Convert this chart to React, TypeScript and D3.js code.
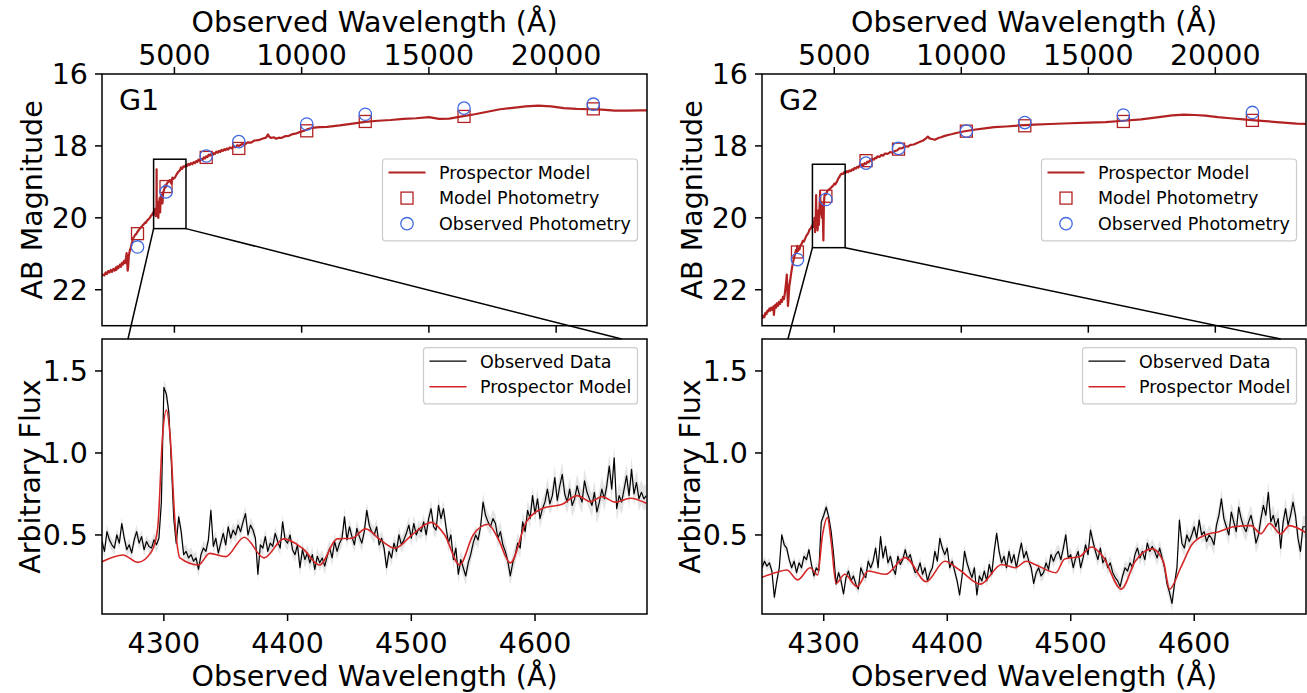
import React from 'react';
import * as d3 from 'd3';

// ---------- axis / tick definitions ----------
const topTicksX = [5000, 10000, 15000, 20000];
const topTicksY = [16, 18, 20, 22];
const botTicksX = [4300, 4400, 4500, 4600];
const botTicksY = [0.5, 1.0, 1.5];
const TOP_X_DOMAIN = [2155, 23570];
const TOP_Y_DOMAIN = [16, 23];
const BOT_X_DOMAIN = [4250, 4690.5];
const BOT_Y_DOMAIN = [0.018, 1.695];

// ---------- photometry ----------
const photWave = [3550, 4670, 6250, 7530, 10200, 12500, 16380, 21460];
const g1ModelPhot = [20.44, 19.13, 18.32, 18.07, 17.58, 17.32, 17.18, 16.97];
const g1ObsPhot = [20.81, 19.28, 18.28, 17.88, 17.39, 17.12, 16.95, 16.84];
const g2ModelPhot = [20.95, 19.40, 18.41, 18.09, 17.59, 17.44, 17.32, 17.29];
const g2ObsPhot = [21.16, 19.49, 18.48, 18.07, 17.59, 17.35, 17.14, 17.07];

// ---------- broadband model spectra (AB mag) ----------
const g1SedWave = [2152, 2200, 2250, 2300, 2350, 2400, 2450, 2500, 2550, 2600, 2650, 2700, 2720, 2760, 2800, 2859, 2900, 2940, 2980, 3020, 3060, 3100, 3122, 3140, 3165, 3185, 3210, 3252, 3290, 3330, 3382, 3420, 3460, 3500, 3540, 3578, 3620, 3660, 3720, 3760, 3800, 3841, 3880, 3920, 3960, 4000, 4038, 4080, 4120, 4160, 4200, 4225, 4245, 4265, 4280, 4295, 4301, 4306, 4320, 4335, 4350, 4370, 4385, 4400, 4420, 4440, 4460, 4480, 4497, 4515, 4530, 4560, 4600, 4627, 4660, 4700, 4757, 4820, 4880, 4920, 4950, 5020, 5080, 5150, 5220, 5260, 5300, 5350, 5413, 5460, 5500, 5550, 5600, 5650, 5700, 5760, 5806, 5860, 5900, 5950, 6000, 6050, 6100, 6150, 6199, 6250, 6300, 6350, 6400, 6450, 6500, 6550, 6592, 6650, 6700, 6750, 6800, 6850, 6900, 6960, 7000, 7060, 7114, 7180, 7250, 7320, 7400, 7470, 7550, 7650, 7770, 7880, 8000, 8150, 8300, 8450, 8600, 8680, 8720, 8800, 8900, 9000, 9100, 9200, 9350, 9500, 9650, 9800, 9950, 10100, 10250, 10400, 10700, 11000, 11500, 12000, 12500, 13000, 13500, 14000, 14500, 15000, 15400, 15800, 16300, 16800, 17300, 17800, 18300, 18800, 19300, 19800, 20300, 20800, 21300, 21800, 22300, 22800, 23300, 23565];
const g1SedMag = [21.62, 21.58, 21.60, 21.52, 21.56, 21.48, 21.52, 21.45, 21.50, 21.42, 21.47, 21.38, 21.45, 21.35, 21.40, 21.30, 21.36, 21.25, 21.30, 21.20, 21.26, 21.10, 20.98, 21.20, 21.47, 21.35, 21.05, 20.90, 20.82, 20.70, 20.56, 20.52, 20.47, 20.45, 20.40, 20.36, 20.32, 20.28, 20.24, 20.20, 20.18, 20.13, 20.14, 20.08, 20.06, 20.02, 20.00, 19.94, 19.92, 19.86, 19.82, 19.90, 19.75, 19.95, 19.78, 19.90, 18.65, 19.85, 19.95, 19.60, 19.90, 20.00, 19.55, 19.70, 19.45, 19.85, 19.40, 19.60, 19.42, 19.35, 19.60, 19.30, 19.20, 19.10, 19.15, 19.05, 19.00, 18.95, 19.05, 18.88, 18.92, 18.88, 18.80, 18.72, 18.68, 18.60, 18.64, 18.57, 18.58, 18.53, 18.56, 18.50, 18.53, 18.48, 18.51, 18.45, 18.48, 18.42, 18.45, 18.38, 18.42, 18.36, 18.39, 18.32, 18.35, 18.29, 18.31, 18.24, 18.27, 18.22, 18.26, 18.20, 18.22, 18.16, 18.19, 18.14, 18.17, 18.11, 18.14, 18.09, 18.12, 18.07, 18.10, 18.04, 18.07, 18.01, 18.04, 17.98, 18.00, 17.95, 17.96, 17.90, 17.91, 17.85, 17.84, 17.80, 17.77, 17.68, 17.74, 17.78, 17.76, 17.80, 17.77, 17.78, 17.73, 17.72, 17.67, 17.65, 17.61, 17.58, 17.53, 17.50, 17.48, 17.47, 17.43, 17.38, 17.33, 17.30, 17.28, 17.25, 17.23, 17.20, 17.25, 17.24, 17.18, 17.12, 17.05, 16.98, 16.94, 16.90, 16.88, 16.90, 16.95, 16.97, 16.98, 16.99, 17.02, 17.02, 17.01, 17.01];

const g2SedWave = [2160, 2200, 2250, 2290, 2330, 2370, 2408, 2450, 2480, 2520, 2560, 2605, 2625, 2650, 2680, 2710, 2740, 2780, 2820, 2860, 2900, 2940, 2980, 3020, 3050, 3080, 3110, 3132, 3150, 3175, 3195, 3230, 3262, 3300, 3340, 3380, 3420, 3459, 3490, 3520, 3545, 3570, 3600, 3630, 3655, 3690, 3720, 3760, 3800, 3852, 3900, 3940, 3990, 4030, 4070, 4110, 4150, 4190, 4220, 4245, 4270, 4285, 4300, 4320, 4345, 4370, 4395, 4420, 4442, 4465, 4490, 4515, 4540, 4572, 4590, 4610, 4639, 4680, 4720, 4780, 4850, 4903, 4960, 5000, 5040, 5100, 5150, 5200, 5250, 5296, 5350, 5400, 5450, 5500, 5550, 5600, 5650, 5700, 5750, 5800, 5850, 5900, 5950, 6000, 6050, 6100, 6150, 6200, 6250, 6300, 6350, 6400, 6450, 6500, 6560, 6607, 6660, 6700, 6780, 6850, 6920, 7000, 7100, 7200, 7300, 7394, 7480, 7562, 7680, 7800, 7900, 8000, 8130, 8262, 8400, 8500, 8600, 8682, 8750, 8800, 8962, 9100, 9200, 9350, 9522, 9650, 9800, 9950, 10082, 10500, 10922, 11300, 11762, 12300, 12882, 13500, 14282, 15000, 15682, 16382, 17082, 17782, 18300, 18762, 19200, 19602, 20100, 20582, 21100, 21562, 22100, 22682, 23200, 23592];
const g2SedMag = [22.81, 22.72, 22.76, 22.64, 22.68, 22.58, 22.60, 22.52, 22.58, 22.50, 22.56, 22.46, 22.70, 22.48, 22.42, 22.50, 22.38, 22.45, 22.34, 22.40, 22.28, 22.34, 22.20, 22.26, 22.12, 21.95, 21.75, 21.58, 21.90, 22.45, 22.30, 21.90, 21.75, 21.55, 21.38, 21.22, 21.10, 21.00, 20.90, 20.96, 20.78, 20.92, 20.85, 20.88, 20.80, 20.74, 20.72, 20.64, 20.66, 20.58, 20.50, 20.46, 20.40, 20.32, 20.30, 20.24, 20.20, 20.25, 20.00, 20.40, 20.05, 19.37, 20.25, 19.90, 20.35, 19.80, 20.20, 19.70, 19.28, 19.90, 19.55, 20.00, 19.65, 20.63, 19.70, 19.40, 19.33, 19.35, 19.26, 19.22, 19.18, 19.14, 19.10, 19.05, 19.07, 19.00, 18.92, 18.86, 18.80, 18.77, 18.78, 18.72, 18.75, 18.70, 18.73, 18.68, 18.70, 18.65, 18.67, 18.61, 18.63, 18.58, 18.60, 18.54, 18.56, 18.51, 18.53, 18.48, 18.50, 18.44, 18.46, 18.40, 18.42, 18.36, 18.38, 18.33, 18.34, 18.29, 18.31, 18.25, 18.27, 18.21, 18.22, 18.17, 18.19, 18.14, 18.12, 18.07, 18.06, 18.01, 18.02, 17.97, 17.96, 17.92, 17.88, 17.85, 17.80, 17.74, 17.79, 17.80, 17.83, 17.78, 17.76, 17.72, 17.69, 17.67, 17.64, 17.62, 17.60, 17.55, 17.51, 17.48, 17.46, 17.43, 17.41, 17.39, 17.37, 17.35, 17.34, 17.30, 17.26, 17.20, 17.15, 17.13, 17.14, 17.16, 17.20, 17.23, 17.26, 17.29, 17.32, 17.35, 17.38, 17.39];

// zoom boxes in the upper panels [wave0, wave1, mag0, mag1] and link ends in the lower panels
const g1ZoomBox = [4183, 5455, 18.37, 20.30];
const g2ZoomBox = [4140, 5428, 18.51, 20.83];
const linkEndWave = [4271, 4670];

// ---------- zoomed spectra (2 A sampling from 4250 A) ----------
const SPEC_START = 4250;
const SPEC_STEP = 2;
const g1ObsFlux = [
  0.46, 0.40, 0.52, 0.47, 0.44, 0.42, 0.50, 0.45, 0.57, 0.48,
  0.41, 0.44, 0.39, 0.47, 0.52, 0.45, 0.49, 0.41, 0.46, 0.43,
  0.42, 0.47, 0.44, 0.48, 0.70, 1.40, 1.36, 1.25, 0.95, 0.60,
  0.45, 0.61, 0.52, 0.38, 0.40, 0.36, 0.38, 0.34, 0.36, 0.29,
  0.38, 0.42, 0.40, 0.47, 0.65, 0.43, 0.48, 0.39, 0.45, 0.51,
  0.44, 0.55, 0.48, 0.53, 0.50, 0.56, 0.52, 0.58, 0.63, 0.50,
  0.56, 0.53, 0.48, 0.26, 0.44, 0.42, 0.49, 0.40, 0.45, 0.43,
  0.51, 0.46, 0.42, 0.58, 0.47, 0.45, 0.50, 0.41, 0.38, 0.44,
  0.30, 0.41, 0.35, 0.39, 0.33, 0.38, 0.29, 0.37, 0.33, 0.36,
  0.31, 0.37, 0.42, 0.36, 0.46, 0.40, 0.45, 0.48, 0.61, 0.47,
  0.55, 0.49, 0.44, 0.54, 0.49, 0.45, 0.52, 0.65, 0.56, 0.52,
  0.50, 0.55, 0.44, 0.48, 0.42, 0.30, 0.40, 0.36, 0.45, 0.40,
  0.50, 0.44, 0.47, 0.51, 0.56, 0.48, 0.57, 0.50, 0.54, 0.52,
  0.58, 0.50, 0.60, 0.66, 0.55, 0.53, 0.68, 0.60, 0.66, 0.55,
  0.45, 0.50, 0.35, 0.42, 0.26, 0.35, 0.30, 0.25, 0.33, 0.38,
  0.45, 0.50, 0.47, 0.55, 0.70, 0.62, 0.58, 0.55, 0.60, 0.57,
  0.48, 0.52, 0.44, 0.40, 0.34, 0.25, 0.33, 0.38, 0.45, 0.42,
  0.58, 0.52, 0.65, 0.60, 0.74, 0.63, 0.72, 0.60, 0.66, 0.70,
  0.78, 0.69, 0.74, 0.85, 0.71, 0.80, 0.87, 0.75, 0.70, 0.78,
  0.68, 0.72, 0.80, 0.74, 0.70, 0.83, 0.76, 0.72, 0.68, 0.76,
  0.64, 0.70, 0.78, 0.72, 0.80, 0.92, 0.78, 0.97, 0.66, 0.74,
  0.70, 0.78, 0.86, 0.74, 0.90, 0.75, 0.82, 0.72, 0.76, 0.72,
  0.74];
const g2ObsFlux = [
  0.30, 0.34, 0.31, 0.33, 0.28, 0.12, 0.22, 0.30, 0.50, 0.44,
  0.42, 0.35, 0.30, 0.34, 0.27, 0.33, 0.30, 0.37, 0.35, 0.41,
  0.32, 0.25, 0.30, 0.28, 0.58, 0.62, 0.67, 0.61, 0.52, 0.38,
  0.20, 0.27, 0.22, 0.14, 0.24, 0.28, 0.22, 0.25, 0.20, 0.17,
  0.30, 0.26, 0.24, 0.34, 0.30, 0.34, 0.42, 0.30, 0.49, 0.36,
  0.43, 0.33, 0.37, 0.30, 0.26, 0.37, 0.32, 0.35, 0.41, 0.35,
  0.38, 0.32, 0.27, 0.28, 0.33, 0.26, 0.30, 0.22, 0.27, 0.30,
  0.40, 0.34, 0.48, 0.42, 0.38, 0.42, 0.30, 0.34, 0.28, 0.22,
  0.134, 0.25, 0.40, 0.33, 0.28, 0.24, 0.30, 0.134, 0.25, 0.22,
  0.28, 0.22, 0.32, 0.26, 0.40, 0.51, 0.40, 0.33, 0.37, 0.30,
  0.40, 0.33, 0.38, 0.30, 0.38, 0.45, 0.36, 0.40, 0.34, 0.30,
  0.205, 0.27, 0.30, 0.25, 0.27, 0.33, 0.29, 0.38, 0.34, 0.38,
  0.40, 0.35, 0.42, 0.50, 0.36, 0.38, 0.30, 0.36, 0.40, 0.30,
  0.36, 0.44, 0.38, 0.53, 0.46, 0.40, 0.35, 0.42, 0.33, 0.36,
  0.30, 0.33, 0.27, 0.24, 0.22, 0.185, 0.25, 0.30, 0.28, 0.33,
  0.30, 0.38, 0.42, 0.36, 0.40, 0.35, 0.45, 0.40, 0.43, 0.40,
  0.36, 0.42, 0.36, 0.30, 0.20, 0.15, 0.083, 0.20, 0.30, 0.59,
  0.45, 0.42, 0.50, 0.46, 0.50, 0.55, 0.48, 0.59, 0.50, 0.52,
  0.46, 0.50, 0.48, 0.44, 0.56, 0.62, 0.72, 0.60, 0.55, 0.50,
  0.64, 0.58, 0.52, 0.67, 0.60, 0.55, 0.52, 0.58, 0.62, 0.55,
  0.45, 0.50, 0.60, 0.68, 0.62, 0.76, 0.58, 0.62, 0.55, 0.60,
  0.42, 0.58, 0.66, 0.56, 0.62, 0.70, 0.62, 0.48, 0.40, 0.55,
  0.55];
// flux uncertainty per 40 A block
const ERR_BLOCK = 40;
const g1ErrBlocks = [0.04, 0.045, 0.045, 0.045, 0.05, 0.05, 0.05, 0.055, 0.06, 0.07, 0.075, 0.075];
const g2ErrBlocks = [0.03, 0.035, 0.035, 0.035, 0.04, 0.04, 0.045, 0.045, 0.05, 0.06, 0.065, 0.065];

const g1FitWave = [4250, 4267, 4279, 4290, 4295, 4299, 4302, 4305, 4309, 4313, 4328, 4337, 4350, 4365, 4381, 4397, 4412, 4426, 4440, 4452, 4463, 4475, 4487, 4501, 4516, 4527, 4539, 4550, 4562, 4570, 4580, 4593, 4608, 4622, 4634, 4645, 4654, 4665, 4677, 4690];
const g1FitFlux = [0.337, 0.378, 0.333, 0.398, 0.54, 1.11, 1.262, 1.11, 0.58, 0.36, 0.317, 0.388, 0.368, 0.486, 0.36, 0.476, 0.419, 0.317, 0.476, 0.48, 0.537, 0.47, 0.419, 0.504, 0.577, 0.50, 0.317, 0.50, 0.565, 0.48, 0.33, 0.58, 0.667, 0.687, 0.74, 0.703, 0.734, 0.70, 0.724, 0.693];
const g2FitWave = [4250, 4262, 4270, 4279, 4289, 4295, 4299, 4303, 4306, 4310, 4317, 4327, 4336, 4350, 4366, 4383, 4398, 4410, 4427, 4444, 4455, 4464, 4472, 4488, 4495, 4507, 4517, 4526, 4541, 4552, 4566, 4575, 4580, 4589, 4598, 4609, 4620, 4632, 4646, 4654, 4661, 4670, 4677, 4690];
const g2FitFlux = [0.242, 0.272, 0.286, 0.226, 0.30, 0.256, 0.50, 0.606, 0.46, 0.205, 0.26, 0.185, 0.28, 0.26, 0.362, 0.215, 0.34, 0.286, 0.20, 0.32, 0.30, 0.34, 0.317, 0.27, 0.354, 0.368, 0.427, 0.368, 0.17, 0.337, 0.415, 0.337, 0.17, 0.30, 0.44, 0.50, 0.52, 0.55, 0.557, 0.508, 0.57, 0.506, 0.557, 0.516];

// ---------- layout ----------
const FONT = 'DejaVu Sans, Verdana, sans-serif';
const TICK_FS = 28.5;
const LABEL_FS = 28.5;
const LEG_FS = 17.5;
const COLS = [[102, 647], [762, 1306]];
const TOP_Y = [74, 325.7];
const BOT_Y = [339, 614];
const SED_RED = '#b22222';
const FIT_RED = '#d62728';
const OBS_BLUE = '#4169e1';

function topScales(col: number[]) {
  return {
    x: d3.scaleLinear().domain(TOP_X_DOMAIN).range(col),
    y: d3.scaleLinear().domain(TOP_Y_DOMAIN).range(TOP_Y),
  };
}
function botScales(col: number[]) {
  return {
    x: d3.scaleLinear().domain(BOT_X_DOMAIN).range(col),
    y: d3.scaleLinear().domain(BOT_Y_DOMAIN).range([BOT_Y[1], BOT_Y[0]]),
  };
}

function Legend({ right, top, width, rows }: any) {
  const rowH = 25.6;
  const h = rows.length * rowH + 5;
  const x0 = right - width;
  return (
    <g>
      <rect x={x0} y={top} width={width} height={h} rx={3} fill="#fff" fillOpacity={0.8} stroke="#cccccc" strokeWidth={1.2} />
      {rows.map((r: any, i: number) => {
        const cy = top + 13.5 + i * rowH;
        const hx = x0 + 6;
        return (
          <g key={i}>
            {r.kind === 'line' && <line x1={hx} x2={hx + 37} y1={cy} y2={cy} stroke={r.color} strokeWidth={r.width} />}
            {r.kind === 'square' && <rect x={hx + 18.5 - 6} y={cy - 6} width={12} height={12} fill="none" stroke={r.color} strokeWidth={1.3} />}
            {r.kind === 'circle' && <circle cx={hx + 18.5} cy={cy} r={6.2} fill="none" stroke={r.color} strokeWidth={1.3} />}
            <text x={x0 + 56.5} y={cy} dy="0.36em" fontSize={LEG_FS} fill="#000">{r.label}</text>
          </g>
        );
      })}
    </g>
  );
}

function TopPanel({ col, wave, mag, modelPhot, obsPhot, name, box, id }: any) {
  const { x, y } = topScales(col);
  const line = d3.line<number>().x((_, i) => x(wave[i])).y((d) => y(d));
  const cx = (col[0] + col[1]) / 2;
  const cy = (TOP_Y[0] + TOP_Y[1]) / 2;
  return (
    <g>
      <clipPath id={id}>
        <rect x={col[0]} y={TOP_Y[0]} width={col[1] - col[0]} height={TOP_Y[1] - TOP_Y[0]} />
      </clipPath>
      <g clipPath={`url(#${id})`}>
        <path d={line(mag) || ''} fill="none" stroke={SED_RED} strokeWidth={2.2} strokeLinejoin="round" />
        {photWave.map((w, i) => (
          <rect key={'s' + i} x={x(w) - 6} y={y(modelPhot[i]) - 6} width={12} height={12} fill="none" stroke={SED_RED} strokeWidth={1.3} />
        ))}
        {photWave.map((w, i) => (
          <circle key={'c' + i} cx={x(w)} cy={y(obsPhot[i])} r={6.2} fill="none" stroke={OBS_BLUE} strokeWidth={1.3} />
        ))}
      </g>
      <rect x={x(box[0])} y={y(box[2])} width={x(box[1]) - x(box[0])} height={y(box[3]) - y(box[2])} fill="none" stroke="#000" strokeWidth={1.5} />
      <rect x={col[0]} y={TOP_Y[0]} width={col[1] - col[0]} height={TOP_Y[1] - TOP_Y[0]} fill="none" stroke="#000" strokeWidth={1.5} />
      {topTicksX.map((t) => (
        <g key={t}>
          <line x1={x(t)} x2={x(t)} y1={TOP_Y[0]} y2={TOP_Y[0] - 7} stroke="#000" strokeWidth={1.5} />
          <line x1={x(t)} x2={x(t)} y1={TOP_Y[1]} y2={TOP_Y[1] + 7} stroke="#000" strokeWidth={1.5} />
          <text x={x(t)} y={65} textAnchor="middle" fontSize={TICK_FS}>{t}</text>
        </g>
      ))}
      {topTicksY.map((t) => (
        <g key={t}>
          <line x1={col[0]} x2={col[0] - 7} y1={y(t)} y2={y(t)} stroke="#000" strokeWidth={1.5} />
          <text x={col[0] - 14} y={y(t)} dy="0.36em" textAnchor="end" fontSize={TICK_FS}>{t}</text>
        </g>
      ))}
      <text x={cx} y={32} textAnchor="middle" fontSize={LABEL_FS}>Observed Wavelength (Å)</text>
      <text transform={`translate(${col[0] - 60},${cy}) rotate(-90)`} textAnchor="middle" fontSize={LABEL_FS}>AB Magnitude</text>
      <text x={col[0] + 17} y={110} fontSize={TICK_FS}>{name}</text>
      <Legend right={col[1] - 9.5} top={159} width={255} rows={[
        { kind: 'line', color: SED_RED, width: 2.2, label: 'Prospector Model' },
        { kind: 'square', color: SED_RED, label: 'Model Photometry' },
        { kind: 'circle', color: OBS_BLUE, label: 'Observed Photometry' },
      ]} />
    </g>
  );
}

function BottomPanel({ col, obs, errBlocks, fitWave, fitFlux, id }: any) {
  const { x, y } = botScales(col);
  const wave = obs.map((_: number, i: number) => SPEC_START + i * SPEC_STEP);
  const err = wave.map((w: number) => errBlocks[Math.floor((w - SPEC_START) / ERR_BLOCK)]);
  const area = d3.area<number>().x((_, i) => x(wave[i])).y0((d, i) => y(d - err[i])).y1((d, i) => y(d + err[i]));
  const obsLine = d3.line<number>().x((_, i) => x(wave[i])).y((d) => y(d));
  const fitLine = d3.line<number>().x((_, i) => x(fitWave[i])).y((d) => y(d)).curve(d3.curveMonotoneX);
  const cx = (col[0] + col[1]) / 2;
  const cy = (BOT_Y[0] + BOT_Y[1]) / 2;
  return (
    <g>
      <clipPath id={id}>
        <rect x={col[0]} y={BOT_Y[0]} width={col[1] - col[0]} height={BOT_Y[1] - BOT_Y[0]} />
      </clipPath>
      <g clipPath={`url(#${id})`}>
        <path d={area(obs) || ''} fill="#d6d6d6" fillOpacity={0.65} stroke="none" />
        <path d={obsLine(obs) || ''} fill="none" stroke="#000" strokeWidth={1.2} strokeLinejoin="round" />
        <path d={fitLine(fitFlux) || ''} fill="none" stroke={FIT_RED} strokeWidth={1.6} />
      </g>
      <rect x={col[0]} y={BOT_Y[0]} width={col[1] - col[0]} height={BOT_Y[1] - BOT_Y[0]} fill="none" stroke="#000" strokeWidth={1.5} />
      {botTicksX.map((t) => (
        <g key={t}>
          <line x1={x(t)} x2={x(t)} y1={BOT_Y[1]} y2={BOT_Y[1] + 7} stroke="#000" strokeWidth={1.5} />
          <text x={x(t)} y={653} textAnchor="middle" fontSize={TICK_FS}>{t}</text>
        </g>
      ))}
      {botTicksY.map((t) => (
        <g key={t}>
          <line x1={col[0]} x2={col[0] - 7} y1={y(t)} y2={y(t)} stroke="#000" strokeWidth={1.5} />
          <text x={col[0] - 14} y={y(t)} dy="0.36em" textAnchor="end" fontSize={TICK_FS}>{t.toFixed(1)}</text>
        </g>
      ))}
      <text x={cx} y={686} textAnchor="middle" fontSize={LABEL_FS}>Observed Wavelength (Å)</text>
      <text transform={`translate(${col[0] - 62},${cy}) rotate(-90)`} textAnchor="middle" fontSize={LABEL_FS}>Arbitrary Flux</text>
      <Legend right={col[1] - 9.5} top={347.7} width={214} rows={[
        { kind: 'line', color: '#000', width: 1.2, label: 'Observed Data' },
        { kind: 'line', color: FIT_RED, width: 1.6, label: 'Prospector Model' },
      ]} />
    </g>
  );
}

function Links({ col, box }: any) {
  const t = topScales(col);
  const b = botScales(col);
  const yTop = t.y(box[3]);
  const yBot = b.y(BOT_Y_DOMAIN[1]);
  return (
    <g stroke="#000" strokeWidth={1.5}>
      <line x1={t.x(box[0])} y1={yTop} x2={b.x(linkEndWave[0])} y2={yBot} />
      <line x1={t.x(box[1])} y1={yTop} x2={b.x(linkEndWave[1])} y2={yBot} />
    </g>
  );
}

export default function App() {
  return (
    <svg width={1307} height={693} style={{ position: 'absolute', left: 0, top: 0 }} fontFamily={FONT}>
      <rect width={1307} height={693} fill="#fff" />
      <TopPanel col={COLS[0]} wave={g1SedWave} mag={g1SedMag} modelPhot={g1ModelPhot} obsPhot={g1ObsPhot} name="G1" box={g1ZoomBox} id="clipT1" />
      <TopPanel col={COLS[1]} wave={g2SedWave} mag={g2SedMag} modelPhot={g2ModelPhot} obsPhot={g2ObsPhot} name="G2" box={g2ZoomBox} id="clipT2" />
      <BottomPanel col={COLS[0]} obs={g1ObsFlux} errBlocks={g1ErrBlocks} fitWave={g1FitWave} fitFlux={g1FitFlux} id="clipB1" />
      <BottomPanel col={COLS[1]} obs={g2ObsFlux} errBlocks={g2ErrBlocks} fitWave={g2FitWave} fitFlux={g2FitFlux} id="clipB2" />
      <Links col={COLS[0]} box={g1ZoomBox} />
      <Links col={COLS[1]} box={g2ZoomBox} />
    </svg>
  );
}
